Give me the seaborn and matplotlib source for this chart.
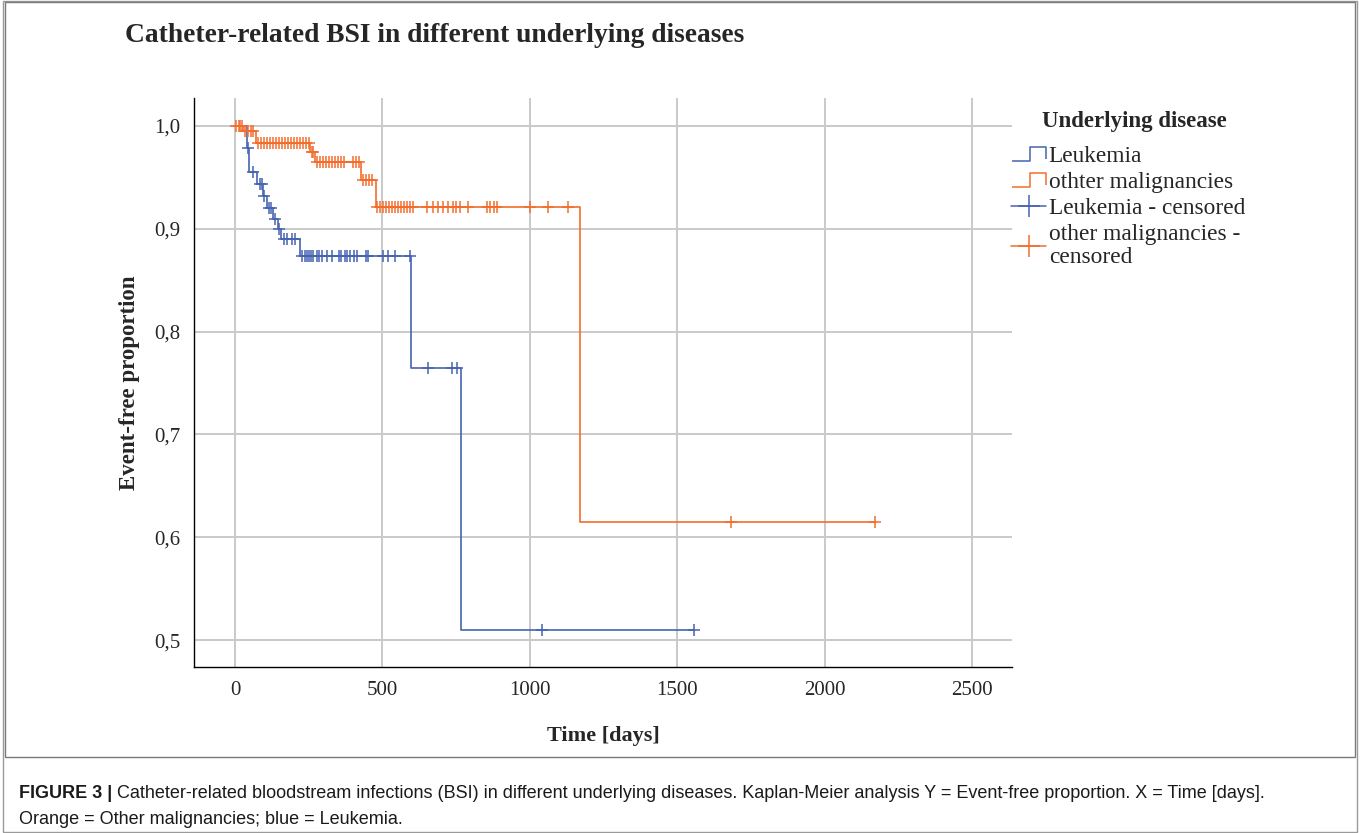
import numpy as np
import matplotlib.pyplot as plt
import seaborn as sns
from matplotlib.lines import Line2D
from matplotlib.path import Path
from matplotlib.patches import Rectangle

# Curvas Kaplan-Meier: tiempo (días) y proporción libre de eventos
leuk_time = [0, 40, 48, 75, 95, 108, 130, 145, 155, 220, 597, 767, 1557]
leuk_surv = [1.0, 0.978, 0.955, 0.943, 0.932, 0.920, 0.909, 0.900, 0.890, 0.873, 0.765, 0.510, 0.510]
leuk_cens = [44, 60, 85, 90, 100, 115, 122, 137, 150, 165, 175, 195, 205,
             227, 237, 244, 251, 258, 265, 278, 285, 295, 312, 329, 353, 360,
             373, 380, 390, 404, 414, 444, 451, 502, 519, 543, 594,
             655, 736, 752, 1041, 1557]

other_time = [0, 28, 70, 255, 272, 428, 478, 1170, 2171]
other_surv = [1.0, 0.995, 0.983, 0.975, 0.965, 0.947, 0.921, 0.615, 0.615]
other_cens = [5, 12, 18, 24, 35, 45, 55, 62,
              78, 88, 98, 108, 119, 129, 139, 149, 159, 170, 180, 190, 200,
              210, 221, 231, 241, 251, 260, 266,
              278, 288, 298, 309, 319, 329, 339, 349, 360, 370, 400, 410, 420,
              435, 445, 455, 465,
              482, 492, 502, 512, 522, 533, 543, 553, 563, 573, 583, 594, 604,
              651, 672, 689, 706, 723, 740, 750, 763, 790, 855, 865, 879, 889,
              1001, 1062, 1130, 1683, 2171]

x_ticks = [0, 500, 1000, 1500, 2000, 2500]
y_ticks = [0.5, 0.6, 0.7, 0.8, 0.9, 1.0]
y_labels = ["0,5", "0,6", "0,7", "0,8", "0,9", "1,0"]

blue = "#4563b2"
orange = "#f26d2c"

sns.set_style("whitegrid", {"grid.color": "#c9c9c9"})
plt.rcParams["font.family"] = ["Liberation Serif", "DejaVu Serif"]


def nivel(tiempos, surv, cens):
    idx = np.searchsorted(tiempos, cens, side="right") - 1
    return np.array(surv)[idx]


fig = plt.figure(figsize=(13.6, 8.33), dpi=100)
ax = fig.add_axes([194 / 1360, 1 - 667 / 833, 818 / 1360, 569 / 833])

sns.lineplot(x=leuk_time, y=leuk_surv, drawstyle="steps-post", color=blue,
             lw=1.2, estimator=None, sort=False, ax=ax)
sns.lineplot(x=other_time, y=other_surv, drawstyle="steps-post", color=orange,
             lw=1.2, estimator=None, sort=False, ax=ax)
sns.scatterplot(x=leuk_cens, y=nivel(leuk_time, leuk_surv, leuk_cens),
                marker="+", s=70, color=blue, linewidth=1.1, ax=ax, zorder=3)
sns.scatterplot(x=other_cens, y=nivel(other_time, other_surv, other_cens),
                marker="+", s=70, color=orange, linewidth=1.1, ax=ax, zorder=3)

ax.set_xlim(-139, 2636)
ax.set_ylim(0.474, 1.027)
ax.set_xticks(x_ticks)
ax.set_xticklabels([str(t) for t in x_ticks], fontsize=15)
ax.set_yticks(y_ticks)
ax.set_yticklabels(y_labels, fontsize=15)
ax.tick_params(length=0, pad=10)
ax.grid(True, color="#c9c9c9", lw=1.4)
for s in ["top", "right"]:
    ax.spines[s].set_visible(False)
for s in ["left", "bottom"]:
    ax.spines[s].set_color("black")
    ax.spines[s].set_linewidth(1.0)

ax.set_xlabel("Time [days]", fontsize=16, fontweight="bold")
ax.set_ylabel("Event-free proportion", fontsize=16.5, fontweight="bold")
ax.xaxis.set_label_coords(0.5, -0.103)
ax.yaxis.set_label_coords(-0.066, 0.5)

fig.text(125 / 1360, 1 - 36 / 833, "Catheter-related BSI in different underlying diseases",
         fontsize=19.8, fontweight="bold", va="center", ha="left")

# Leyenda con icono de escalón
fig.text(1134 / 1360, 1 - 121 / 833, "Underlying disease", fontsize=16.5,
         fontweight="bold", ha="center", va="center")
paso = Path([(-1, -0.4), (0.05, -0.4), (0.05, 0.4), (1, 0.4), (1, -0.3)])
handles = [
    Line2D([], [], ls="None", marker=paso, ms=25, mfc="none", mec=blue, mew=1.1),
    Line2D([], [], ls="None", marker=paso, ms=25, mfc="none", mec=orange, mew=1.1),
    Line2D([], [], color=blue, lw=1.1, marker="+", ms=16, mew=1.1),
    Line2D([], [], color=orange, lw=1.1, marker="+", ms=16, mew=1.1),
]
labels = ["Leukemia", "othter malignancies", "Leukemia - censored",
          "other malignancies -\ncensored"]
leg = fig.legend(handles, labels, loc="upper left",
                 bbox_to_anchor=(1011 / 1360, 1 - 146 / 833), frameon=False,
                 fontsize=16.8, handlelength=1.5, handletextpad=0.12,
                 labelspacing=0.2, borderpad=0, borderaxespad=0, numpoints=1)
for t in leg.get_texts():
    t.set_linespacing(1.15)

# Marcos
fig.add_artist(Rectangle((3 / 1360, 1 / 833), 1354 / 1360, 831 / 833,
                         transform=fig.transFigure, fill=False, ec="#9a9a9a", lw=1))
fig.add_artist(Rectangle((5 / 1360, 1 - 757 / 833), 1350 / 1360, 755 / 833,
                         transform=fig.transFigure, fill=False, ec="#7a7a7a", lw=1))

# Pie de figura
fig.canvas.draw()
r = fig.canvas.get_renderer()
sans = ["Liberation Sans", "DejaVu Sans"]
t1 = fig.text(19 / 1360, 1 - 794 / 833, "FIGURE 3 |", fontsize=13, fontweight="bold",
              family=sans, va="center", color="#1a1a1a")
bb = t1.get_window_extent(r)
fig.text((bb.x1 + 5) / 1360, 1 - 794 / 833,
         "Catheter-related bloodstream infections (BSI) in different underlying diseases. "
         "Kaplan-Meier analysis Y = Event-free proportion. X = Time [days].",
         fontsize=13, family=sans, va="center", color="#1a1a1a")
fig.text(19 / 1360, 1 - 819 / 833, "Orange = Other malignancies; blue = Leukemia.",
         fontsize=13, family=sans, va="center", color="#1a1a1a")

fig.savefig("out.png", dpi=100)
